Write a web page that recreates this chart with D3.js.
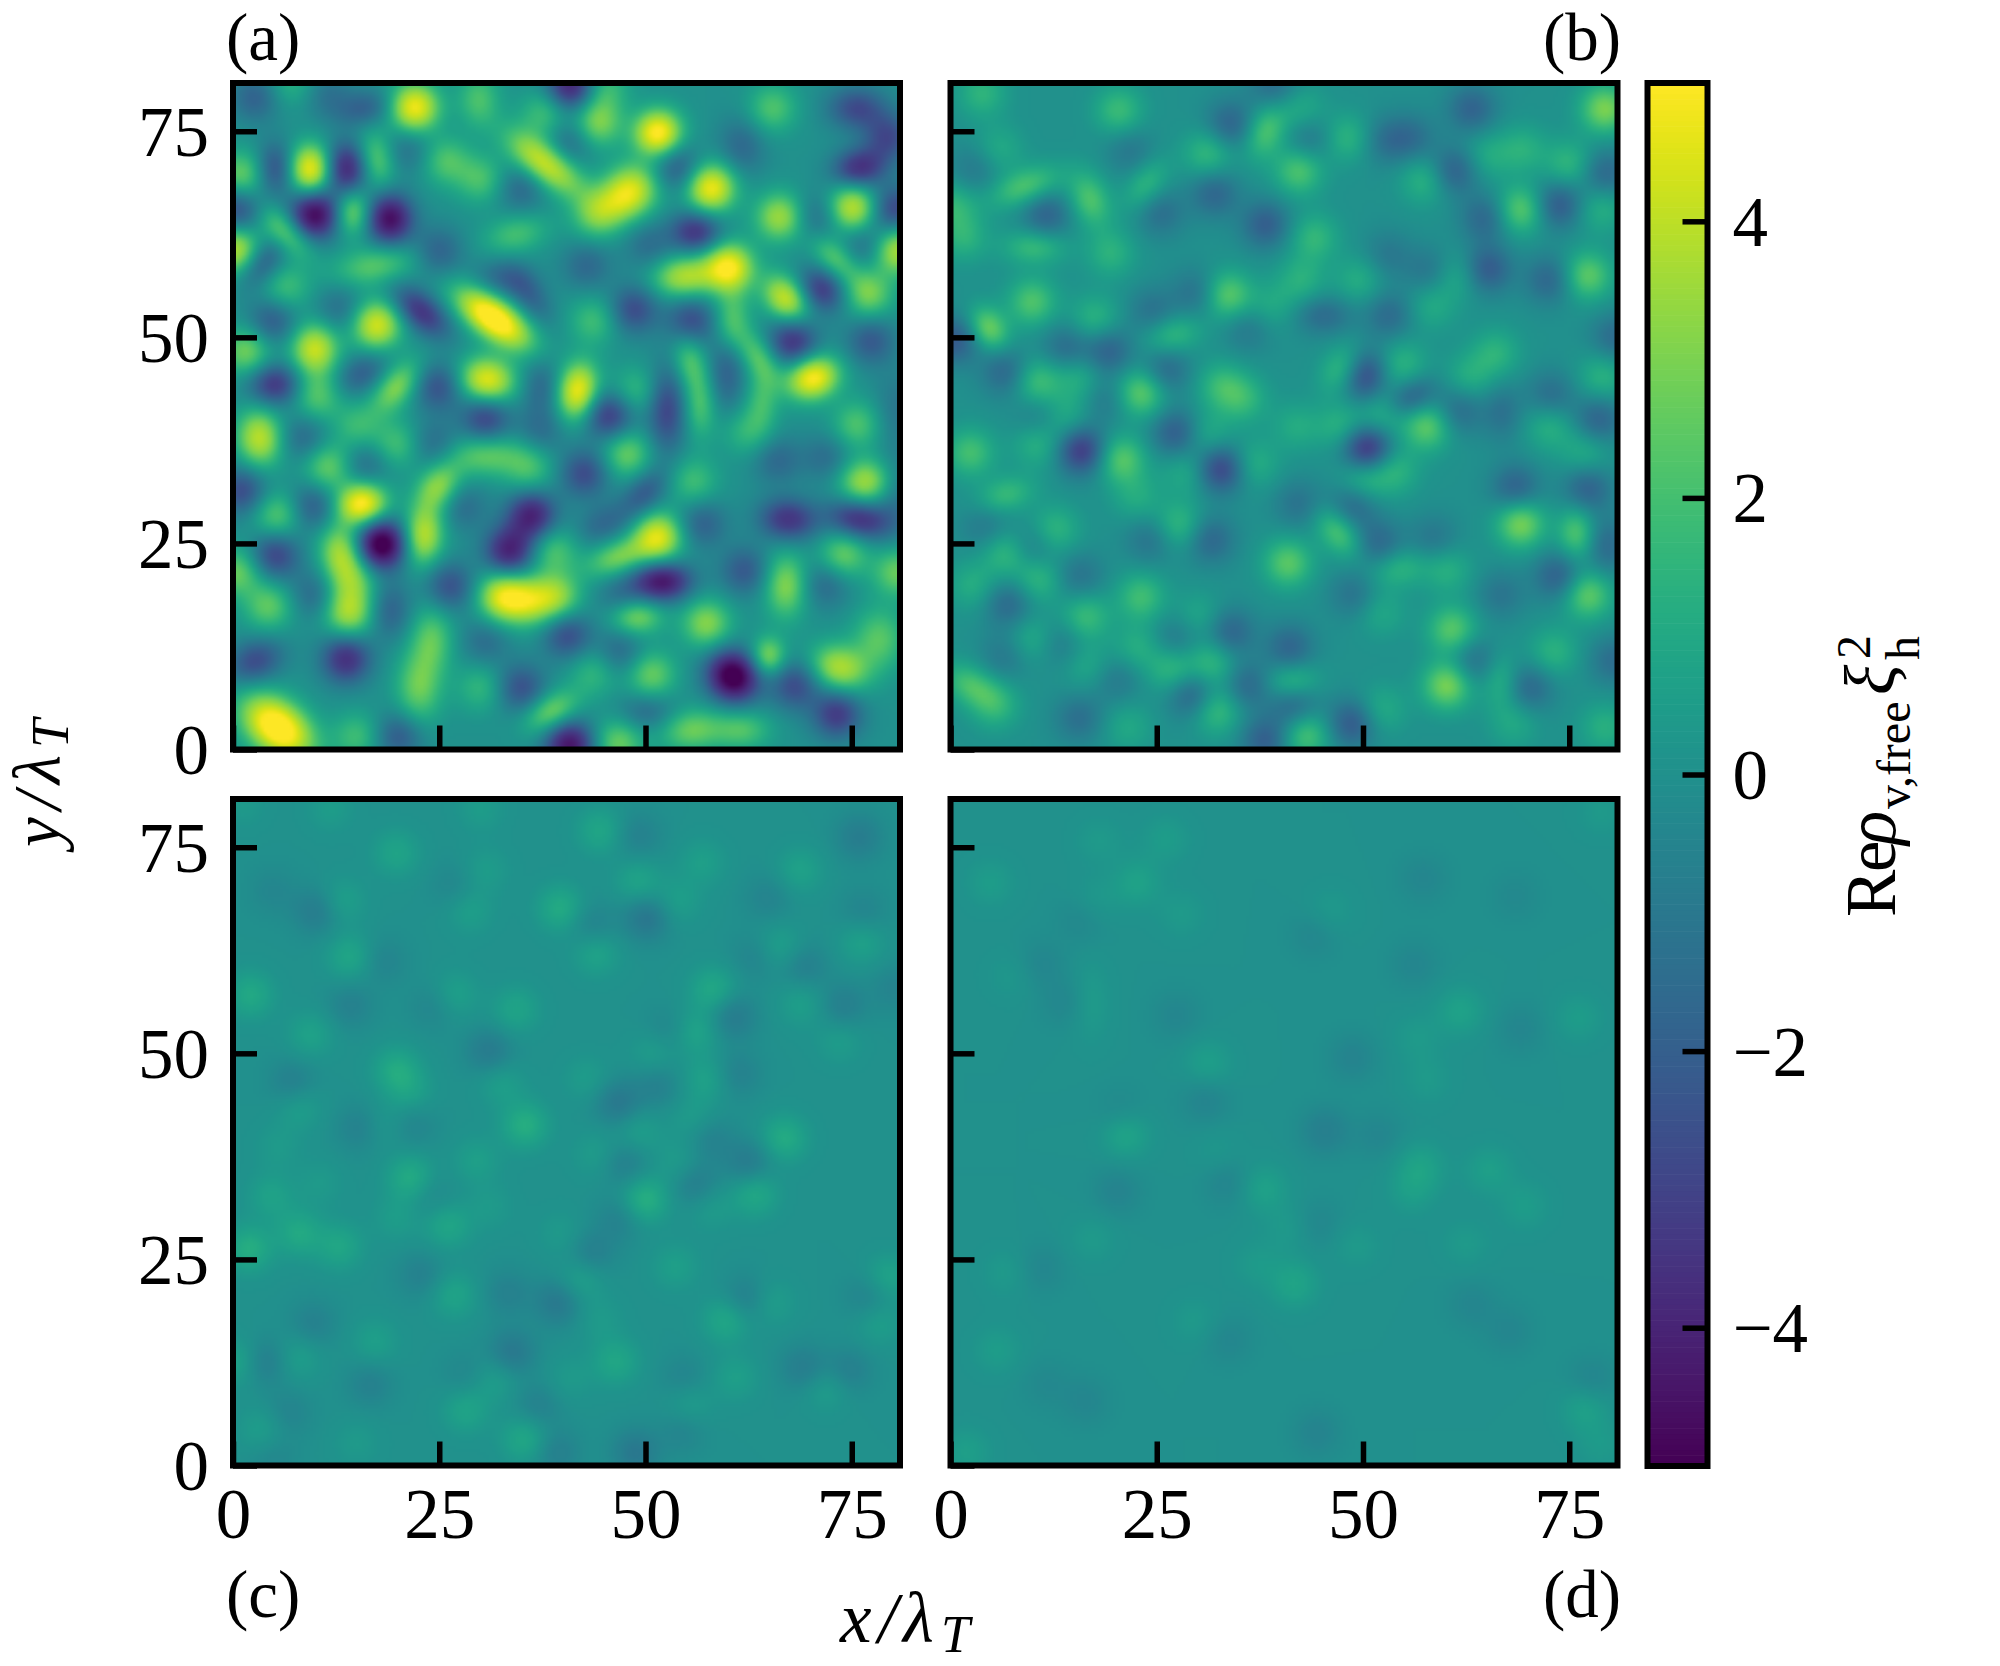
<!DOCTYPE html>
<html><head><meta charset="utf-8">
<script src="https://cdn.jsdelivr.net/npm/d3@7"></script>
<style>html,body{margin:0;padding:0;background:#fff}svg{display:block}text{font-family:"Liberation Serif",serif;fill:#000}</style>
</head><body><svg id="c" width="2000" height="1666"></svg>
<script>
// Each entry: x, y, amplitude; optional long/short width and tilt (deg)
const panelA=[[22,77.9,5.5],[9.4,70.4,5.5,1.9,1.4,90],[1.1,69.7,2.8],[17.4,71.6,2.6,2.2,1.2,100],[25.8,71.4,2.2],[29.8,78.9,2.1,2.2,1.4,90],[30,69.2,2.1],[37.8,77.2,2],[37.8,71.1,4.8,3.4,1.3,-38],[44.2,76,3.1],[51.5,74.8,6,1.8,1.5,20],[48.6,68.1,3.9,2,1.7,30],[44,64.9,2.8],[46.7,66.5,2.3],[57.9,68.1,5.5],[65.4,77.8,2.2],[66.3,64.6,3.7],[75.1,65.7,4.5],[80.5,60.6,4.2],[.3,60.6,4.2],[14.5,65.2,3.2,1.8,1.2,90],[6.4,62.8,2.9,2.4,1.1,-45],[17.2,58.7,2.4,3.2,1.3,10],[34.3,62.5,2,2.5,1.3,15],[60.1,58.5,5.6],[54.7,57.4,4,2.4,1.4,5],[67,54.7,4.6,2,1.3,-50],[77,55.3,3],[73,59.5,2.5,2.2,1.1,-45],[70.3,45.1,5.8,2,1.4,20],[60.4,52,2.4,2.4,1.2,85],[63.6,47.7,2.4,2.4,1.1,-55],[64.1,42.4,1.8,2.4,1.1,90],[62.2,38.6,1.6],[55.3,47.2,2.2,2.2,1.1,100],[56.6,41.8,2.2,2.6,1.1,90],[31.6,52.3,7,3.2,1.3,-36],[17.4,51.5,4.8],[9.9,48.6,4.6,1.8,1.7,0],[1.6,48.3,2.9],[6.4,56,1.9],[10.2,42.9,2.4],[19.8,44,3.2,2.4,1.2,50],[30.8,44.8,5.2,2.1,1.5,-10],[41.8,43.5,5.4,2.2,1.3,80],[43.7,52,1.9],[48.8,43.5,1.7],[3.2,37.8,4.3,2.2,1.5,95],[15,39.2,1.7],[11.5,34.3,2.7],[19.8,37,2],[30.6,35.7,2.6,3,1.4,0],[35.9,34,1.9],[47.7,35.9,2.7],[24.9,31.9,3.4,2,1.3,55],[23.1,26,4.3,2.3,1.3,85],[15.6,29.8,6,1.9,1.4,10],[5.4,28.4,2.5],[13.1,23.9,3.8,2.2,1.4,100],[14,16.6,3.8],[14.5,20.4,2.4],[4.3,17.4,2.5],[.5,21.5,2.7],[51.5,25.8,4.9],[46.7,23.3,3,2.5,1.2,20],[38.9,24.1,2.2],[32.7,18.5,4.9,1.9,1.6,-20],[39.2,18.5,3.4],[35.9,18,3.4],[55.8,32.5,1.9],[76.7,32.5,3.8,2,1.5,0],[75.6,39.4,2.2],[74,23.6,2.7],[67,19.9,3.2,2.5,1.4,90],[80.5,21.5,2.7],[48.8,16.1,3.2,2,1.2,0],[57.4,15.3,3.2],[64.9,11.3,3.2,1.3,1.3,0],[73.5,9.9,4,2.2,1.5,-20],[78.3,13.4,2.4,2.4,1.7,90],[24.1,13.4,2.4,2.6,1.4,90],[22.5,7.5,2.7,2.8,1.5,90],[50.7,9.1,2.7],[43.7,9.4,1.6],[30,7.5,1.6],[38.6,4.6,3,2.2,1.2,30],[55.5,2.4,2.7,2.4,1.4,5],[61.7,2.4,2.2,2.2,1.3,0],[5.4,2.7,7,3,1.7,-38],[15,1.6,1.9],[46.7,.8,2.7],[45,80.2,1.9],[7,80.9,1.4],
[2.7,79.1,-1.9],[16.1,77.8,-1.9,2.2,1.2,10],[11.5,79.4,-1.2],[41,80.5,-4.5],[40.8,73.8,-1.6],[5.1,70.5,-2.7,2,1.3,90],[13.7,70.5,-4.3,2,1.4,90],[21.2,72.7,-1.3],[9.9,64.9,-5.5],[19,64.4,-5.3,1.9,1.5,90],[.5,65.5,-2.7],[3.5,59,-2.4,2.1,1.2,50],[24.9,60.4,-1.9],[4.8,52,-2.2],[12.9,53.4,-1.4],[22.8,53.1,-3.6,2.5,1.2,-40],[32.7,57.1,-1.6,2.2,1.3,-5],[36,55,-1.7,2.4,1.1,-55],[34.9,68.1,-1.6],[53.9,70.5,-2.2],[61.7,73.2,-1.6,2.2,1.5,100],[56.1,62.8,-3.6,1.9,1.4,0],[50.4,61.2,-1.4],[42.9,58.7,-1.6],[48.6,53.4,-2.7],[55.5,52,-2.7],[59.8,46.1,-2,3.2,1.3,90],[67.9,49.5,-3.6],[71.4,55.8,-3.3,1.9,1.4,-40],[77.3,49.6,-2.2],[75.6,77.8,-2.7,2.2,1.4,0],[79.4,74.3,-2.7],[75.9,70.5,-3.8,2,1.3,10],[80.2,65.5,-3],[76.7,61.2,-1.6],[70.8,64.6,-1.6],[5.1,44.3,-3.5,2,1.4,0],[15.6,45.6,-2,2.2,1.3,30],[24.9,44,-2.5],[37.3,44,-1.6,2.2,1.3,90],[30.6,40.2,-3],[45.6,40.5,-3.3],[52.6,41.3,-3,3.2,1.3,90],[8.6,37.8,-1.6],[24.4,37,-1.6],[16.1,34.6,-1.6],[42.6,33.5,-2.7],[49.9,31.1,-2.2,2.2,1.2,50],[37.3,38.6,-1.4],[66,35.1,-1.6],[71.9,35.4,-1.4],[1.1,31.4,-2.7],[9.7,29.5,-2.2],[27.9,29.5,-1.4],[36.2,28.4,-4.4],[33.5,24.1,-4.4],[18,24.9,-6.5],[5.1,23.6,-3],[26.3,19.8,-2.5],[9.9,18.8,-1.6],[19,16.9,-1.9,2.2,1.4,90],[45,27.4,-1.6,2.2,1.3,25],[56.9,27.4,-1.9],[52,20.4,-5,2.2,1.3,0],[62,21.7,-2.2],[47,18.5,-1.4],[67.3,27.9,-3.6,2.2,1.4,-5],[75.9,27.9,-3.8,2.4,1.3,-10],[71.9,20.1,-1.6],[40.5,13.9,-2.7],[30.6,13.1,-1.4],[46.9,11.8,-1.6],[13.7,11,-3.8],[2.7,10.7,-2.7,2.2,1.4,25],[60.6,8.9,-6.5,2,1.6,-45],[68.1,7.8,-2.7],[73.2,4.3,-3.3],[34.9,7.5,-2.5],[50.2,4.6,-1.6,2.2,1.3,0],[40.8,.5,-5],[20.1,1.6,-2.2],[80.5,41.3,-1.1,3,1.5,90],[80.5,31,-1.3,3,1.5,90]];
const panelB=[[3.8,79.6,1.5],[20.4,77.5,1.8],[38.2,75,2.2,2.2,1.3,70],[42.5,77.6,1.2],[48.1,74.2,1.5],[31.2,72.3,1.7],[42.2,70.2,2.2],[9.1,68.3,2.2,2.8,1.2,20],[16.9,66.7,2.2,2.2,1.3,110],[23.7,68.5,1.6,2.2,1.2,55],[57.5,69.1,1.5],[65.1,72,1.1],[69.4,72.8,1.3],[75,71,1.6],[79.3,77.7,3],[69.1,65.5,2.5],[78.8,65.6,1.3],[.3,66,1.5],[1.6,62.1,1.4],[10.2,61,1.8,2.4,1.2,0],[19.4,60.2,1.4],[5.9,72.8,1.1],[44.1,62.1,1.6],[42.5,57,1.3],[49.5,57,1.2],[77.2,57.5,2.5],[61.3,57.5,1.2],[33.6,55.1,2.5],[9.9,54.3,2.2],[4.6,51.1,2.8,1.8,1.2,-55],[17.5,52.2,1.5],[26.9,50.3,1.7,2.2,1.3,15],[39,53.8,1],[58.3,53.8,1.1],[66.1,48.1,1.4],[62.9,45.2,1.2],[79,45.2,1.4],[54.8,46.8,1.4],[47,46.2,1.4,2,1.2,60],[10.5,44.6,2],[15.6,45.2,1.3],[23.1,43.3,2.6],[32.8,44.1,1.6],[35.5,42.5,1.5],[41.9,39.2,1.1],[47.3,39.2,1.4],[52.2,40.6,1.4],[57.8,39.2,2.5],[2.4,36,2],[10.5,37.1,1.4],[20.7,35.2,2.4],[14,40.3,1.2],[31.2,38.2,1.2],[36.8,34.7,1.3],[28.5,33.6,1.1],[50,32.8,1.8],[53.8,33.9,1.5],[6.7,30.9,1.7,2.2,1.2,15],[22.6,30.6,1.1],[72.6,39.2,1.3],[76.9,36,1.2],[69.1,27.4,3],[75.8,26.3,2.2,2,1.2,90],[47,26.3,2.2,2.2,1.2,-50],[27.7,27.2,1.7],[12.6,26.6,1.6],[6.7,23.9,1.7],[10.7,20.7,1.6],[40.9,22.6,2.4],[54.3,22,1.5,2.2,1.3,10],[60.2,21.8,1.3],[2.7,19.9,1.2],[23.1,18.5,1.9],[16.4,16.1,1.8],[77.2,18.8,2.6],[60.8,14.5,2.4],[10,13.4,1.2],[52.2,16.7,1],[30.1,16.1,1],[22.6,12.4,1.2],[73.1,11.8,1.4],[2.4,7.8,2,2.2,1.3,-30],[5.4,5.4,1.5],[26.9,9.7,1.7],[31.7,10.5,1.7],[41.4,8.3,1.7,2,1.2,5],[32.2,4.8,1.9],[16.6,10.2,1],[60.2,7.8,3],[66.7,8.3,1.4,2.2,1.2,90],[43,1.9,2.3],[52.2,4.8,1.2],[79.3,2.7,1.3],[68.3,3.2,1],[21.5,2.7,1],
[39.2,80.4,-1.5],[33.9,75.8,-1.8],[63.2,77.7,-1.8],[55.9,74.2,-1.3],[52.7,73.9,-1.2],[43.5,74.2,-1.2],[61,70.2,-2],[79.3,69.9,-1.7],[73.7,66.1,-2.2],[64.8,64.5,-1.7],[65.1,58.3,-2.2],[72.6,57,-1.7],[32,67.5,-1.7],[11.6,64.8,-1.8],[25.5,65.1,-1.3],[38.2,63.7,-2],[21.8,72.6,-1],[3,70.4,-1],[53,60,-1],[58.1,58,-1.2],[29.8,55.4,-1.3],[24.5,53.2,-1.2],[45.2,52.7,-1.5,2.2,1.3,0],[53.2,52.7,-1.5],[36,51.1,-1],[.5,49.7,-2.2],[14,48.7,-1.5],[19.1,48.4,-1.9],[6.7,45.8,-1.7],[26.1,46,-1.6],[50.5,45.2,-2.5,2,1.3,75],[55.9,42.7,-2,2,1.2,30],[80.6,50,-1.5],[72.8,43,-1.4],[61.6,41.1,-1.5],[66.9,40.9,-1.2,2.2,1.3,90],[78.5,40,-1.8],[18.8,42.5,-1],[10.7,40.3,-1],[27.4,38.4,-2.1],[15.9,36.3,-3.3],[32.8,34.1,-3],[50.5,36.5,-3.8],[68.5,31.7,-1.9],[77.2,31.7,-1.9],[42.2,29.8,-1.2],[48.9,29.8,-1.7],[31.5,25.5,-1.7],[24.2,25.5,-1.2],[10,24.5,-1.2],[51.9,25,-1.6],[58.6,25.5,-1.1],[79.6,24.7,-1.5,2.2,1.3,90],[73.7,21,-2],[4.3,26.9,-1],[7,17.7,-1.6],[15.6,21,-1.2],[48.9,18.8,-1.2],[66.7,18.8,-1.1],[33.9,14.2,-1.8],[27.4,13.4,-1.1],[41.1,12.4,-1.7],[13.4,12.9,-1],[63.4,10.8,-1.4],[80.4,10.8,-1.4],[29.3,6.7,-2],[36,7.8,-1.6],[20.1,8.6,-1],[41.7,5.1,-1.7],[70.2,7.5,-1.6],[15.6,3.8,-1.3],[48.7,3.2,-2.2],[38.2,1.1,-2],[6.5,11.3,-1]];
const panelC=[[1.1,80.2,.4],[11.8,79.7,.5],[30,79.7,.5],[44.5,77,.9],[19.8,74.3,.8],[30.6,72.2,.5],[49.1,70.8,.8],[56.9,73.2,.6],[68.7,72.2,.7],[53.9,68.4,.6],[13.1,68.4,.7],[28.7,67.3,.6],[39.7,67.6,1.1],[14.2,61.7,.9],[44,62.2,.8],[66.3,62.8,.7],[76.2,63.6,.7],[2.1,57.1,1],[26.8,57.1,.7],[58.2,57.7,1],[34.3,55.3,.8],[68.9,56.1,.6],[9.4,52.3,.7],[56.1,52.6,.8],[19.8,48,1],[51,50.2,.6],[73.5,51.5,.5],[57.4,46.9,.7],[32.5,46.4,.6],[42.9,46.9,.5],[21.5,45.3,.6],[8,43.5,.6],[35.4,41.3,1.2],[49.1,40.5,.6],[55.8,42.1,.5],[66.8,39.7,1.1],[18.5,41.3,.4],[5.4,38.6,.4],[44,37.8,.5],[53.9,36.7,.5],[29.5,37,.6],[21.5,34.9,1.1],[10.5,34.3,.4],[4.6,32.7,.7],[49.9,32.2,1.3],[63.3,33,1],[57.9,31.4,.5],[26,29.2,.9],[31.1,31.4,.4],[19.8,30,.5],[8,28.2,1],[12.9,26.6,.9],[1.9,26.3,1.2],[39.7,28.2,.4],[53.6,24.1,.6],[42.1,22.5,.7],[26.8,20.7,.8],[79.4,22.8,.8],[65.2,19.8,.6],[59.8,17.7,1],[78.3,17.4,.6],[44.5,17.7,.4],[17.2,15,.6],[.5,12.6,.8],[7.8,13.1,.6],[46.4,12.6,.9],[31.7,10.5,.6],[40.8,10.5,.4],[60.9,10.7,.6],[71.9,9.4,.6],[28.2,6.7,.8],[55.3,7.5,.6],[3.5,4.3,.6],[35.4,3.2,1],[15,2.7,.4],
[10.2,67.3,-.9],[50.2,66.5,-1.1],[49.1,76.4,-.6],[75.9,76.2,-.8],[43.5,65.5,-.6],[18.2,61.2,-.5],[69.2,60.6,-.7],[63.3,61.7,-.5],[24.4,55.8,-.5],[14.2,55.8,-.6],[60.6,54.5,-.9],[74,55.8,-.7],[80.2,57.9,-.5],[52.6,52.6,-.5],[31.1,50.2,-.9],[7.2,46.4,-.7],[51.5,46.1,-.6],[61.2,47.5,-.6],[46.7,44,-1],[15.3,41,-.6],[21.7,41.3,-.5],[57.9,39.7,-.6],[62.5,36.7,-.9],[47.5,36.7,-.7],[56.1,34.1,-.8],[46.9,30,-.6],[24.1,32.5,-.4],[43.5,25.8,-.7],[22.8,23.1,-.6],[33.3,20.9,-.6],[39.4,19.8,-1],[62.2,20.1,-.8],[77,20.4,-.6],[9.7,17.2,-.6],[33.8,13.7,-1],[4,12.6,-.8],[16.6,9.9,-.6],[69.2,11.8,-.8],[74.6,11.5,-.7],[54.7,10.5,-.5],[37,7.2,-.6],[6.7,6.4,-.5],[54.5,4.3,-.5],[48.8,1.6,-1],[39.2,1.6,-.7],[4.8,1.1,-.4],[28.2,11,-.4],[4.8,69.7,-.4],[26.8,70.3,-.4],[64.9,68.9,-.5],[76.4,67.1,-.5]];
const panelD=[[4.8,70.7,.5],[22.6,70.7,.7],[26.1,76,.5],[18,75.8,.4],[28,66.9,.4],[17.5,68.5,.4],[17,56.2,.5,3,1.3,90],[61.8,55.1,.7],[76.1,54.3,.5],[46,67.2,.4],[56.5,51.9,.4],[31.2,48.7,.6],[57.8,46.8,.4],[21.2,40.3,.9],[57,36.3,.7],[65.3,35.8,.6],[37.9,33.6,.7],[55.9,33.3,.5],[69.6,31.5,.5],[41.1,28.8,.4],[49.2,26.6,.4],[62.4,26.9,.4],[41.7,22,.8],[37.1,24.5,.4],[5.6,14,.5],[29.6,17.5,.4],[76.9,7,.7],[1.9,1.6,.6],[78.8,79.3,.4],[78.8,2.4,.4],[7.3,59.4,.3],[32.3,37.9,.3],[17.2,27.4,.4],[6.7,23.4,.4],
[57.3,71.2,-.4],[15.9,66.4,-.4],[11,60.8,-.4],[14,56.2,-.4],[27.4,54.6,-.4],[48.7,49.5,-.5],[56.2,60.8,-.4],[44.1,64.5,-.4],[69.1,53,-.4],[30.9,44.4,-.5],[45.4,40.6,-.7],[20.7,42.7,-.4],[20.2,33.3,-.5],[33.6,34.4,-.5],[51.9,40.1,-.4],[11,23.9,-.4],[44.4,29.3,-.4],[67.7,16.4,-.4],[77.7,10.2,-.5],[44.4,4,-.5],[16.4,7.8,-.4],[11.6,9.9,-.3],[33.6,15.3,-.4],[63.2,19.6,-.4],[68.5,69.1,-.3]];
const axisTicks=[0,25,50,75];
const colorTicks=[-4,-2,0,2,4];
const panelNames=["(a)","(b)","(c)","(d)"];
const colorDomain=[-5,5];
const xMax=80.85;

const svg=d3.select("#c");
const color=d3.scaleSequential(d3.interpolateViridis).domain(colorDomain);
const W=667,H=666.5,FS=71;
const x=d3.scaleLinear().domain([0,xMax]).range([0,W]);
const y=d3.scaleLinear().domain([0,xMax]).range([H,0]);
const layout=[{d:panelA,k:1.3,l:233,t:83,yl:true,xl:false},{d:panelB,k:1.3,l:950.5,t:83,yl:false,xl:false},{d:panelC,k:1.25,l:233,t:799,yl:true,xl:true},{d:panelD,k:1.3,l:950.5,t:799,yl:false,xl:true}];
const N=220;
function field(peaks,k){
  const cv=document.createElement("canvas");cv.width=N;cv.height=N;
  const c=cv.getContext("2d"),im=c.createImageData(N,N);
  const P=peaks.map(p=>{const e=p.length>3,a=e?p[3]*(1+(k-1)*.4):1.6*k,b=(e?p[4]:1.6)*k,t=(e?p[5]:0)*Math.PI/180;
    return {x:p[0],y:p[1],v:p[2],a,b,c:Math.cos(t),s:Math.sin(t)}});
  for(let j=0;j<N;j++)for(let i=0;i<N;i++){
    const dx=(i+.5)/N*xMax,dy=(1-(j+.5)/N)*xMax;let v=0;
    for(const p of P){const u=dx-p.x,w=dy-p.y;if(Math.abs(u)>12||Math.abs(w)>12)continue;
      const r=u*p.c+w*p.s,q=-u*p.s+w*p.c;v+=p.v*Math.exp(-.5*(r*r/(p.a*p.a)+q*q/(p.b*p.b)));}
    const m=Math.abs(v);if(m>3)v=Math.sign(v)*(3+(m-3)*.72);
    const o=4*(j*N+i),kk=d3.rgb(color(Math.max(-5,Math.min(5,v))));
    im.data[o]=kk.r;im.data[o+1]=kk.g;im.data[o+2]=kk.b;im.data[o+3]=255;}
  c.putImageData(im,0,0);return cv.toDataURL();
}
layout.forEach((p,i)=>{
  const g=svg.append("g").attr("transform",`translate(${p.l},${p.t})`);
  g.append("image").attr("href",field(p.d,p.k)).attr("width",W).attr("height",H).attr("preserveAspectRatio","none");
  const ax=g.append("g").attr("transform",`translate(0,${H})`).call(d3.axisBottom(x).tickValues(axisTicks).tickSize(-24).tickSizeOuter(0).tickPadding(66).tickFormat(p.xl?d3.format("d"):""));
  const ay=g.append("g").call(d3.axisLeft(y).tickValues(axisTicks).tickSize(-24).tickSizeOuter(0).tickPadding(24).tickFormat(p.yl?d3.format("d"):""));
  [ax,ay].forEach(a=>{a.select(".domain").remove();a.selectAll("line").attr("stroke","#000").attr("stroke-width",5.5);
    a.selectAll("text").attr("font-size",FS).attr("font-family","Liberation Serif").attr("fill","#000");});
  ax.selectAll("text").attr("dy",0).attr("y",1538-p.t-H);
  ay.selectAll("text").attr("dy",0).attr("y",24);
  g.append("rect").attr("width",W).attr("height",H).attr("fill","none").attr("stroke","#000").attr("stroke-width",6);
});
[[panelNames[0],226,60,"start"],[panelNames[1],1621,60,"end"],[panelNames[2],226,1617,"start"],[panelNames[3],1621,1617,"end"]].forEach(t=>
  svg.append("text").attr("x",t[1]).attr("y",t[2]).attr("text-anchor",t[3]).attr("font-size",67).text(t[0]));
// colorbar
const cbL=1647.5,cbW=60,cbT=83,cbH=1383;
const cy=d3.scaleLinear().domain(colorDomain).range([cbH,0]);
const cb=svg.append("g").attr("transform",`translate(${cbL},${cbT})`);
const levels=d3.range(-5,5,10/256);
cb.selectAll("rect.l").data(levels).join("rect").attr("class","l").attr("x",0).attr("width",cbW)
  .attr("y",d=>cy(d+10/256)).attr("height",cbH/256+.6).attr("fill",d=>color(d+5/256));
const cax=cb.append("g").attr("transform",`translate(${cbW},0)`).call(d3.axisRight(cy).tickValues(colorTicks).tickSize(-25).tickSizeOuter(0).tickPadding(25).tickFormat(d3.format("d")));
cax.select(".domain").remove();cax.selectAll("line").attr("stroke","#000").attr("stroke-width",5.5);
cax.selectAll("text").attr("font-size",FS).attr("font-family","Liberation Serif").attr("fill","#000").attr("dy",0).attr("y",24);
cb.append("rect").attr("width",cbW).attr("height",cbH).attr("fill","none").attr("stroke","#000").attr("stroke-width",6);
// axis titles: one text element each, pieces placed as tspans
function title(transform,fs,list){
  const t=svg.append("text").attr("transform",transform).attr("font-size",fs);
  list.forEach(p=>{const e=t.append("tspan").attr("x",p.x).attr("y",p.y||0).attr("font-size",p.s||fs).text(p.t);if(p.i)e.attr("font-style","italic");});
}
title("translate(840,1642)",FS,[{t:"x",x:0,i:1},{t:"/",x:38,i:1},{t:"λ",x:63,i:1},{t:"T",x:101,y:10,s:52,i:1}]);
title("translate(60,847) rotate(-90)",67,[{t:"y",x:0,i:1},{t:"/",x:37,i:1},{t:"λ",x:63,i:1},{t:"T",x:99,y:8,s:52,i:1}]);
title("translate(1895,917) rotate(-90)",FS,[{t:"R",x:0},{t:"e",x:45},{t:"ρ",x:72,i:1},{t:"v,free",x:108,y:15,s:48},{t:"ξ",x:222,i:1},{t:"2",x:258,y:-25,s:48},{t:"h",x:257,y:24,s:48}]);
</script></body></html>
